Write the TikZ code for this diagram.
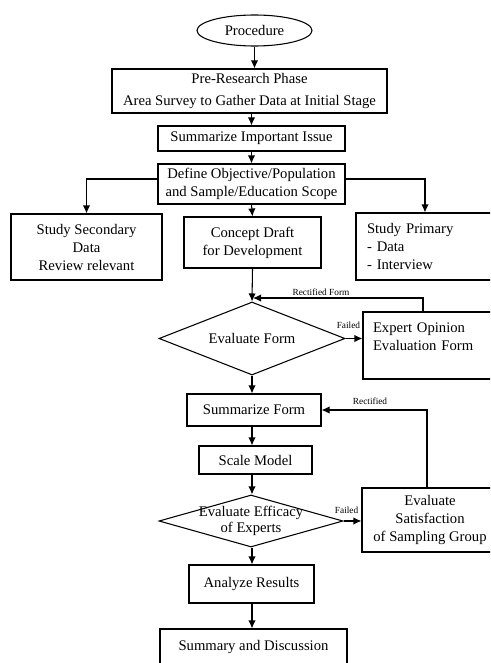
\documentclass[tikz,border=0pt]{standalone}
\usepackage{fontspec}
\setmainfont{Liberation Serif}
\usetikzlibrary{shapes.geometric,arrows.meta}
\begin{document}
\begin{tikzpicture}[x=0.75pt,y=-0.75pt,>={Latex[length=6pt,width=5.5pt]},
   box/.style={draw,line width=0.8pt,font=\fontsize{11}{13.5}\selectfont,align=center,inner sep=0pt},
   dia/.style={draw,diamond,line width=0.8pt,font=\fontsize{11}{13.5}\selectfont,align=center,inner sep=0pt},
   tag/.style={font=\fontsize{7}{8}\selectfont,inner sep=1pt}]
   \clip (0,0) rectangle (490,663);
   %top
   \node[box,ellipse,minimum width=86.25pt,minimum height=23.25pt] (proc) at (254.5,30.5) {Procedure};
   \node[box,minimum width=206.25pt,minimum height=33pt] (pre) at (249.5,91) {Pre-Research Phase\\[2.5pt]Area Survey to Gather Data at Initial Stage};
   \node[box,minimum width=140.25pt,minimum height=18.75pt] (issue) at (251.5,138.5) {Summarize Important Issue};
   \node[box,minimum width=140.25pt,minimum height=30pt] (define) at (251.5,184) {Define Objective/Population\\and Sample/Education Scope};
   %three studies
   \node[box,minimum width=113.25pt,minimum height=49.5pt] (second) at (86.5,247) {Study Secondary\\Data\\Review relevant};
   \node[box,minimum width=102.75pt,minimum height=38.25pt] (draft) at (252.5,242.5) {Concept Draft\\for Development};
   \node[box,align=left,text width=96pt,inner xsep=8.25pt,minimum height=50.25pt] (primary) at (431,246.5) {Study Primary\\- Data\\- Interview};
   %form loop
   \node[dia,minimum width=139.5pt,minimum height=54.75pt,aspect=2.55] (eval1) at (252,338.5) {Evaluate Form};
   \node[box,align=left,text width=93.75pt,inner xsep=7.5pt,minimum height=50.25pt] (expert) at (435.5,345.5) {Expert Opinion\\Evaluation Form\\~};
   \node[box,minimum width=100.5pt,minimum height=24pt] (sumform) at (254,410) {Summarize Form};
   \node[box,minimum width=84.75pt,minimum height=21pt] (scale) at (255.5,460) {Scale Model};
   %efficacy loop
   \node[dia,minimum width=138pt,minimum height=39pt,aspect=3.5,
      label={[font=\fontsize{11}{12}\selectfont,align=center]center:Evaluate Efficacy\\of Experts}] (eval2) at (251,521) {};
   \node[box,minimum width=102pt,minimum height=48pt] (satis) at (430,520) {Evaluate\\Satisfaction\\of Sampling Group};
   %end
   \node[box,minimum width=93.75pt,minimum height=28.5pt] (analyze) at (251.5,584) {Analyze Results};
   \node[box,minimum width=140.25pt,minimum height=37.5pt] (summary) at (253.5,654) {Summary and Discussion\\~};
   \coordinate (join1) at (253,298);
   %arrows down
   \draw[->,line width=0.8pt] (proc.south) -- (proc.south |- pre.north);
   \draw[->,line width=0.8pt] (pre.south -| issue) -- (issue.north);
   \draw[->,line width=0.8pt] (issue.south) -- (define.north);
   \draw[->,line width=0.8pt] (define.south) -- (draft.north);
   \draw[->,line width=0.8pt] ([yshift=3.75pt]define.west) -| (second.north);
   \draw[->,line width=0.8pt] ([yshift=3.75pt]define.east) -| ([xshift=-4.5pt]primary.north);
   \draw[->,line width=0.8pt] (draft.south) -- (eval1.north);
   \draw[->,line width=0.8pt] (eval1.south) -- (eval1.south |- sumform.north);
   \draw[->,line width=0.8pt] (sumform.south -| eval1) -- (eval1 |- scale.north);
   \draw[->,line width=0.8pt] (scale.south -| eval1) -- (eval1 |- eval2.north);
   \draw[->,line width=0.8pt] (eval2.south -| eval1) -- (eval1 |- analyze.north);
   \draw[->,line width=0.8pt] (analyze.south -| eval1) -- (eval1 |- summary.north);
   %failed
   \draw[->,line width=0.8pt] (eval1.east) -- node[tag,above=6pt,pos=0.17] {Failed} (eval1.east -| expert.west);
   \draw[->,line width=0.8pt] (eval2.east) -- node[tag,above=4pt,pos=0.17] {Failed} (eval2.east -| satis.west);
   %rectified
   \draw[->,line width=0.8pt] ([xshift=-9.375pt]expert.north) |- node[tag,above=0.5pt,pos=0.8] {Rectified Form} (join1);
   \draw[->,line width=0.8pt] ([xshift=-2.25pt]satis.north) |- node[tag,above=2.5pt,pos=0.77] {Rectified} (sumform.east);
\end{tikzpicture}
\end{document}
